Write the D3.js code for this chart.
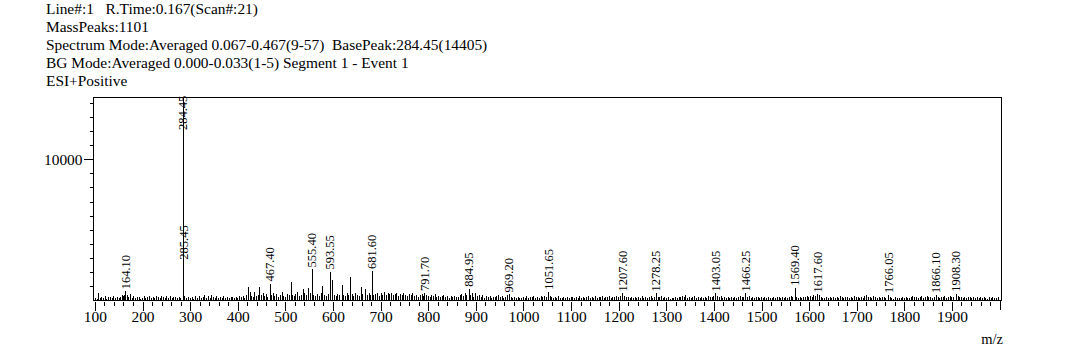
<!DOCTYPE html>
<html><head><meta charset="utf-8">
<script src="https://cdn.jsdelivr.net/npm/d3@7"></script>
<style>body{margin:0;background:#fff}svg{display:block}text{font-family:"Liberation Serif","Times New Roman",serif;fill:#000}</style>
</head><body><svg id="c" width="1090" height="362"></svg>
<script>
const headerLines = [
  "Line#:1   R.Time:0.167(Scan#:21)",
  "MassPeaks:1101",
  "Spectrum Mode:Averaged 0.067-0.467(9-57)  BasePeak:284.45(14405)",
  "BG Mode:Averaged 0.000-0.033(1-5) Segment 1 - Event 1",
  "ESI+Positive"
];
const xTicks = [100,200,300,400,500,600,700,800,900,1000,1100,1200,1300,1400,1500,1600,1700,1800,1900];
const yTickLabels = [10000];
const labeledMz = [164.10,284.45,285.45,467.40,555.40,593.55,681.60,791.70,884.95,969.20,1051.65,1207.60,1278.25,1403.05,1466.25,1569.40,1617.60,1766.05,1866.10,1908.30];
const labeledInt = [650,14405,2750,1200,2200,2050,2080,530,830,430,620,500,500,500,500,900,430,390,390,480];
const noisePeaks = [[101,180],[104,120],[106,520],[110,150],[113,240],[117,180],[121,300],[124,140],[128,220],[131,260],[135,160],[139,330],[142,210],[146,280],[150,170],[153,240],[157,360],[160,300],[162,420],[167,380],[170,250],[173,460],[177,200],[181,310],[184,150],[188,230],[192,270],[195,140],[199,210],[203,300],[206,180],[210,240],[214,330],[217,190],[221,280],[225,160],[228,300],[232,250],[236,180],[239,340],[243,220],[247,160],[250,290],[254,200],[258,320],[261,170],[265,240],[269,280],[272,150],[276,220],[279,190],
[288,300],[292,160],[296,220],[300,180],[304,260],[307,140],[311,300],[315,210],[318,340],[322,180],[326,250],[330,420],[333,200],[337,300],[341,160],[344,380],[348,240],[352,190],[355,290],[359,150],[363,260],[366,200],[370,320],[374,180],[377,240],[381,160],[385,280],[388,220],[392,170],[396,260],[399,200],[403,300],[407,240],[410,350],[414,200],[418,420],[421,980],[425,620],[428,300],[432,260],[435,600],[439,340],[442,420],[445,980],[448,380],[452,500],[456,310],[459,460],[462,280],[470,360],[474,520],[477,300],[481,440],[485,260],[488,380],[492,620],[496,340],[499,280],[503,450],[507,360],[511,1300],[514,400],[518,300],[521,480],[524,600],[528,340],[532,420],[536,800],[539,500],[543,380],[548,880],[551,520],[559,420],[562,300],[566,460],[570,340],[574,520],[578,1020],[581,380],[585,300],[589,460],[598,1440],[602,420],[606,300],[609,480],[613,360],[618,1090],[621,420],[625,300],[629,500],[632,400],[636,1670],[640,460],[643,340],[647,520],[651,380],[654,300],[658,930],[662,440],[667,810],[671,380],[675,500],[678,420],[685,360],[689,480],[692,520],[696,340],[700,560],[703,420],[707,600],[711,380],[715,500],[718,440],[722,560],[726,360],[730,480],[733,520],[737,340],[741,460],[745,380],[748,520],[752,400],[756,300],[760,440],[763,360],[767,500],[771,320],[774,420],[778,280],[782,380],[786,460],[789,300],[795,420],[799,340],[803,280],[806,360],[810,300],[814,460],[817,260],[821,340],[825,220],[829,300],[832,380],[836,260],[840,320],[843,200],[847,300],[851,260],[854,340],[858,220],[862,280],[866,380],[869,460],[873,300],[877,520],[880,420],[888,360],[892,500],[895,280],[899,560],[903,320],[906,420],[910,260],[914,360],[918,200],[921,300],[925,240],[929,340],[932,180],[936,260],[940,220],[943,300],[947,380],[951,240],[954,320],[958,200],[962,280],[965,360],[973,220],[977,160],[980,240],[984,180],[988,280],[991,200],[995,150],[999,260],[1003,200],[1006,300],[1010,180],[1014,260],[1017,220],[1021,320],[1025,180],[1028,260],[1032,200],[1036,300],[1040,240],[1043,350],[1047,260],[1055,300],[1058,220],[1062,160],[1066,260],[1069,180],[1073,300],[1077,200],[1080,150],[1084,260],[1088,180],[1091,240],[1095,160],[1099,220],[1102,280],[1106,160],[1110,240],[1114,190],[1117,300],[1121,180],[1125,250],[1128,160],[1132,220],[1136,300],[1139,190],[1143,260],[1147,210],[1150,320],[1154,180],[1158,260],[1161,220],[1165,300],[1169,190],[1172,280],[1176,230],[1180,320],[1183,180],[1187,260],[1191,220],[1194,300],[1198,240],[1202,340],[1212,300],[1215,220],[1219,280],[1223,180],[1226,240],[1230,200],[1234,280],[1237,170],[1241,240],[1245,200],[1248,300],[1252,180],[1256,260],[1259,160],[1263,240],[1267,300],[1270,200],[1274,260],[1282,280],[1285,220],[1289,300],[1293,180],[1296,240],[1300,160],[1304,220],[1307,140],[1311,200],[1315,160],[1318,240],[1322,180],[1326,280],[1329,220],[1333,320],[1337,240],[1340,360],[1344,180],[1348,240],[1351,160],[1355,220],[1359,300],[1362,180],[1366,240],[1370,160],[1373,220],[1377,180],[1381,260],[1384,200],[1388,300],[1392,240],[1395,280],[1399,340],[1407,300],[1410,240],[1414,320],[1418,200],[1421,260],[1425,180],[1429,220],[1432,160],[1436,240],[1440,200],[1443,280],[1447,180],[1451,240],[1454,300],[1458,220],[1462,280],[1470,240],[1473,300],[1477,200],[1481,260],[1484,180],[1488,240],[1492,220],[1495,160],[1499,280],[1503,200],[1506,240],[1510,180],[1514,260],[1517,200],[1521,160],[1525,240],[1528,180],[1532,280],[1536,220],[1539,160],[1543,240],[1547,200],[1550,260],[1554,180],[1558,240],[1561,300],[1565,220],[1573,260],[1576,200],[1580,240],[1584,180],[1587,260],[1591,220],[1595,300],[1598,240],[1602,340],[1606,260],[1609,380],[1613,300],[1621,360],[1625,280],[1628,200],[1632,160],[1636,220],[1639,180],[1643,240],[1647,160],[1650,220],[1654,180],[1658,260],[1661,200],[1665,300],[1669,240],[1672,180],[1676,280],[1680,220],[1683,160],[1687,240],[1691,200],[1694,300],[1698,220],[1702,260],[1705,180],[1709,240],[1713,200],[1716,300],[1720,360],[1724,220],[1727,260],[1731,180],[1735,300],[1738,240],[1742,200],[1746,260],[1749,180],[1753,220],[1757,280],[1760,200],[1770,240],[1773,180],[1777,140],[1781,220],[1784,160],[1788,200],[1792,150],[1795,240],[1799,180],[1803,260],[1806,200],[1810,160],[1814,240],[1817,300],[1821,220],[1825,280],[1828,180],[1832,240],[1836,300],[1839,200],[1843,260],[1847,320],[1850,240],[1854,280],[1858,200],[1862,260],[1870,240],[1873,200],[1877,280],[1881,220],[1884,300],[1888,180],[1892,260],[1895,320],[1899,240],[1903,280],[1912,300],[1915,220],[1919,260],[1923,180],[1926,240],[1930,200],[1934,280],[1937,220],[1941,160],[1945,240],[1948,200],[1952,260],[1956,180],[1959,220],[1963,160],[1967,240],[1970,200],[1974,140],[1978,220],[1981,180],[1985,260],[1989,200],[1992,160],[1996,240]];

const svg = d3.select("#c");
const L = 93, R = 1001, T = 97, B = 300.5;
const x = d3.scaleLinear().domain([96, 2003]).range([L, R]);
const y = d3.scaleLinear().domain([0, 14405]).range([B, T]);
const px = v => Math.round(x(v)) + 0.5;

// header
svg.append("g").selectAll("text").data(headerLines).join("text")
  .attr("x", 46).attr("y", (d, i) => 14 + i * 18)
  .attr("font-size", 15.4).attr("xml:space", "preserve").style("white-space", "pre").text(d => d);

// frame
const g = svg.append("g").attr("shape-rendering", "crispEdges").attr("stroke", "#000").attr("fill", "none");
g.append("path").attr("d", `M${L + 0.5},${B}V${T + 0.5}H${R + 0.5}V${B}H${L + 0.5}`);

// x axis
const xAxis = d3.axisBottom(x).tickValues(xTicks).tickSize(9).tickSizeOuter(0).tickFormat(d3.format("d"));
const xg = svg.append("g").attr("transform", `translate(0,${Math.round(B) + 0.5})`).call(xAxis);
xg.select(".domain").remove();
xg.selectAll("line").attr("shape-rendering", "crispEdges");
xg.selectAll("text").attr("font-size", 15.4).attr("font-family", "Liberation Serif").attr("fill", "#000").attr("dy", "0.55em");
const minorX = d3.range(100, 2001, 20).filter(v => v % 100 !== 0);
const xmg = svg.append("g").attr("transform", `translate(0,${Math.round(B) + 0.5})`)
  .call(d3.axisBottom(x).tickValues(minorX).tickSize(4).tickFormat(""));
xmg.select(".domain").remove();
xmg.selectAll("line").attr("shape-rendering", "crispEdges");
svg.append("line").attr("shape-rendering","crispEdges").attr("stroke","#000")
  .attr("x1", px(2000)).attr("x2", px(2000)).attr("y1", B).attr("y2", B + 9);

// y axis
const yg = svg.append("g").attr("transform", `translate(${L + 0.5},0)`)
  .call(d3.axisLeft(y).tickValues(yTickLabels).tickSize(10).tickFormat(d3.format("d")));
yg.select(".domain").remove();
yg.selectAll("line").attr("shape-rendering", "crispEdges");
yg.selectAll("text").attr("font-size", 15.4).attr("font-family", "Liberation Serif").attr("fill", "#000").attr("x", -11);
const minorY = d3.range(1000, 14001, 1000).filter(v => v !== 10000);
const ymg = svg.append("g").attr("transform", `translate(${L + 0.5},0)`)
  .call(d3.axisLeft(y).tickValues(minorY).tickSize(4).tickFormat(""));
ymg.select(".domain").remove();
ymg.selectAll("line").attr("shape-rendering", "crispEdges");

// noise peaks
svg.append("g").attr("shape-rendering", "crispEdges").attr("stroke", "#000")
  .selectAll("line").data(noisePeaks).join("line")
  .attr("x1", d => px(d[0])).attr("x2", d => px(d[0]))
  .attr("y1", B).attr("y2", d => y(d[1]));

// labeled peaks
const peaks = labeledMz.map((m, i) => ({m, v: labeledInt[i]}));
svg.append("g").attr("shape-rendering", "crispEdges").attr("stroke", "#000")
  .selectAll("line").data(peaks).join("line")
  .attr("x1", d => px(d.m)).attr("x2", d => px(d.m))
  .attr("y1", B).attr("y2", d => y(d.v));
svg.append("g").selectAll("text").data(peaks).join("text")
  .attr("transform", d => {
    const top = d.v >= 14000 ? T + 33 : y(d.v) - 2;
    return `translate(${x(d.m) + 4.5},${top}) rotate(-90)`;
  })
  .attr("font-size", 12.5).attr("fill", "#222")
  .text(d => d.m.toFixed(2));

// axis title
svg.append("text").attr("x", 992).attr("y", 344).attr("font-size", 14.5).attr("text-anchor", "middle").text("m/z");
</script></body></html>
